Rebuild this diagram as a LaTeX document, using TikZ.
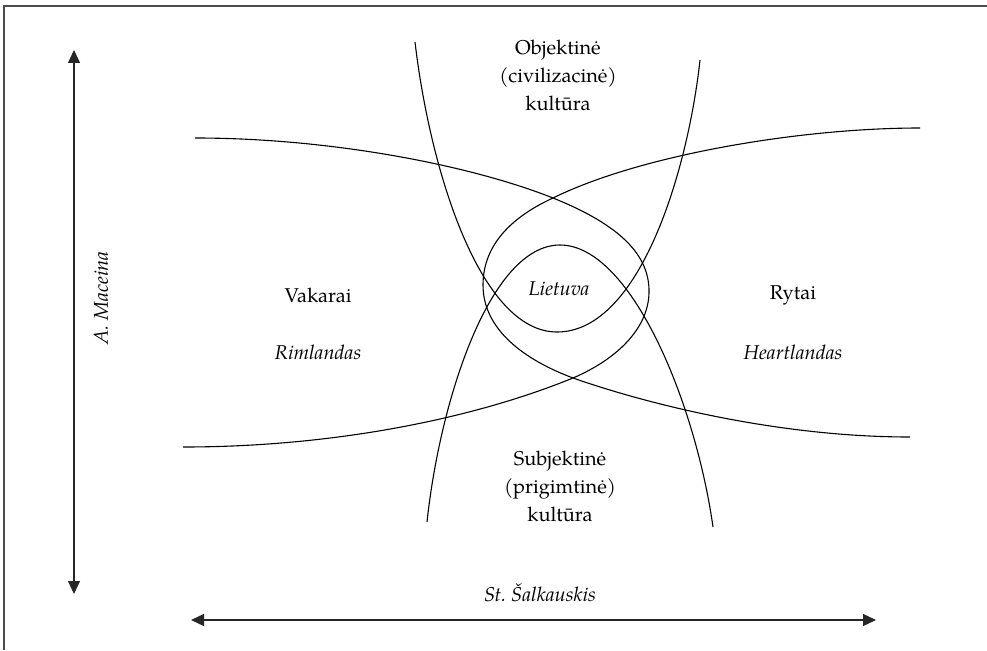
\documentclass[tikz,border=0pt]{standalone}
\usepackage{fontspec}
\setmainfont{TeX Gyre Pagella}
\usetikzlibrary{arrows.meta}
\begin{document}
\begin{tikzpicture}[x=1pt,y=-1pt,
  curve/.style={line width=1.1pt, black},
  lbl/.style={font=\fontsize{20}{28}\selectfont, align=center, inner sep=0pt},
  ilbl/.style={font=\fontsize{20}{28}\selectfont\itshape, inner sep=0pt},
  axis/.style={line width=1.2pt, black!85, {Triangle[length=13pt,width=12pt]}-{Triangle[length=13pt,width=12pt]}}]
\useasboundingbox (0,0) rectangle (987,650);
% frame
\draw[line width=1.2pt, black!70] (4,650) -- (4,6) -- (987,6);
% west-east curves
\draw[curve] (195,138) .. controls (330,138) and (470,165) .. (553,198)
  .. controls (620,225) and (650,255) .. (649,293)
  .. controls (648,330) and (615,360) .. (573,378)
  .. controls (470,420) and (330,447) .. (183,447);
\draw[curve] (920,128) .. controls (800,128) and (640,155) .. (553,198)
  .. controls (505,220) and (483,250) .. (483,285)
  .. controls (483,330) and (525,360) .. (573,378)
  .. controls (650,405) and (780,437) .. (910,437);
% top U
\draw[curve] (415,42) .. controls (430,170) and (480,332) .. (557,332)
  .. controls (640,332) and (688,170) .. (700,60);
% bottom inverted U
\draw[curve] (427,522) .. controls (440,400) and (490,245) .. (560,245)
  .. controls (630,245) and (695,400) .. (713,527);
% labels
\node[lbl] (obj) at (558,75) {Objektinė\\(civilizacinė)\\kultūra};
\node[lbl] (subj) at (560,486) {Subjektinė\\(prigimtinė)\\kultūra};
\node[lbl] (vak) at (318,295) {Vakarai};
\node[ilbl] (rim) at (318,352) {Rimlandas};
\node[lbl] (ryt) at (793,295) {Rytai};
\node[ilbl] (heart) at (793,352) {Heartlandas};
\node[ilbl] (liet) at (559,289) {Lietuva};
\node[ilbl, rotate=90] (mac) at (101,298) {A. Maceina};
\node[ilbl] (salk) at (540,593) {St.\ Šalkauskis};
% axes
\coordinate (vt) at (74,50);
\coordinate (vb) at (74,594);
\coordinate (hl) at (191,620);
\coordinate (hr) at (876,620);
\draw[axis] (vt) -- (vb);
\draw[axis] (hl) -- (hr);
\end{tikzpicture}
\end{document}
